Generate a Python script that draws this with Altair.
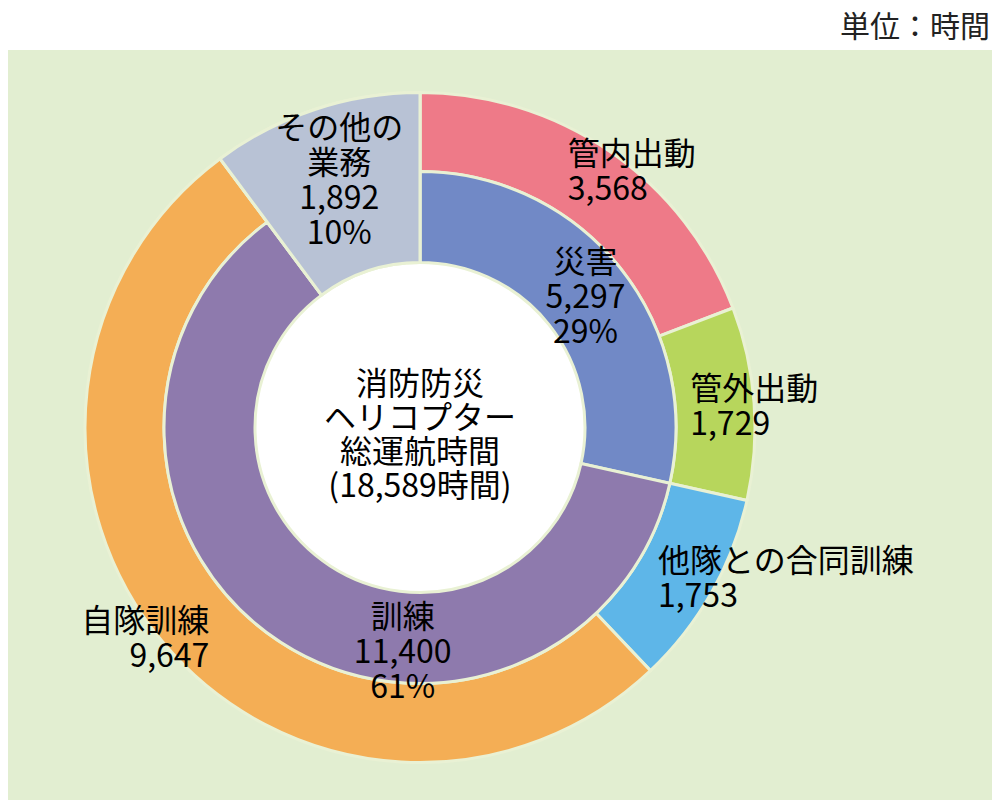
import math

import altair as alt
import pandas as pd

# 外側の輪：内訳
outer_names = ["管内出動", "管外出動", "他隊との合同訓練", "自隊訓練", "その他の業務"]
outer_display = ["管内出動", "管外出動", "他隊との合同訓練", "自隊訓練", "その他の\n業務"]
outer_values = [3568, 1729, 1753, 9647, 1892]

# 内側の輪：区分
inner_names = ["災害", "訓練", "その他の業務"]
inner_values = [5297, 11400, 1892]
inner_pct = ["29%", "61%", "10%"]

palette_names = ["管内出動", "管外出動", "他隊との合同訓練", "自隊訓練", "その他の業務", "災害", "訓練"]
palette_colors = ["#EE7A88", "#B7D65C", "#5EB6E8", "#F4AE55", "#B8C2D5", "#7189C6", "#8E7AAD"]

center_lines = ["消防防災", "ヘリコプター", "総運航時間"]
unit_label = "単位：時間"

FONT = "Noto Sans CJK JP"
BG = "#E2EED1"
EDGE = "#E9F1D4"
LH = 35
CX, CY = 412, 377.5  # 円の中心（view 座標）

total = sum(outer_values)

outer = pd.DataFrame({
    "name": outer_names,
    "value": outer_values,
    "order": list(range(len(outer_names))),
    "label": [f"{d}\n{v:,}" for d, v in zip(outer_display, outer_values)],
})
# その他の業務 は内外をまたぐ一枚なので割合もここに付ける
outer.loc[outer["name"] == "その他の業務", "label"] += "\n" + inner_pct[-1]

inner = pd.DataFrame({
    "name": inner_names,
    "value": inner_values,
    "order": list(range(len(inner_names))),
    "label": [f"{n}\n{v:,}\n{p}" for n, v, p in zip(inner_names, inner_values, inner_pct)],
})

theta_scale = alt.Scale(domain=[0, total], range=[0, 2 * math.pi], nice=False, zero=True)
color = alt.Color(
    "name:N", scale=alt.Scale(domain=palette_names, range=palette_colors), legend=None
)


def stacked(df):
    return (
        alt.Chart(df)
        .transform_stack(
            stack="value", groupby=[], as_=["start", "end"],
            sort=[alt.SortField("order", order="ascending")],
        )
        .transform_calculate(mid="(datum.start + datum.end) / 2")
    )


def ring(df, inner_r, outer_r, only=None):
    base = stacked(df)
    if only:
        base = base.transform_filter(alt.datum.name == only)
    return base.mark_arc(
        innerRadius=inner_r, outerRadius=outer_r, stroke=EDGE, strokeWidth=3
    ).encode(
        theta=alt.Theta("start:Q", scale=theta_scale),
        theta2="end:Q",
        color=color,
        x=alt.value(CX),
        y=alt.value(CY),
    )


def label(df, name, radius, align="center", dx=0, dy=0):
    # 複数行は1行目が基準点に来るので、ブロックの中央に合わせてずらす
    breaks = df.loc[df["name"] == name, "label"].iloc[0].count("\n")
    return (
        stacked(df)
        .transform_filter(alt.datum.name == name)
        .mark_text(
            radius=radius, align=align, dx=dx, dy=dy - breaks * LH / 2, baseline="middle",
            lineBreak="\n", font=FONT, fontSize=32, lineHeight=LH, color="black",
        )
        .encode(
            theta=alt.Theta("mid:Q", scale=theta_scale),
            text="label:N",
            x=alt.value(CX),
            y=alt.value(CY),
        )
    )


info = pd.DataFrame({
    "center": ["\n".join(center_lines) + f"\n({total:,}時間)"],
    "unit": [unit_label],
})

disc = alt.Chart(info).mark_arc(
    theta=0, theta2=2 * math.pi, innerRadius=0, outerRadius=166, fill="white"
).encode(x=alt.value(CX), y=alt.value(CY))

center_text = alt.Chart(info).mark_text(
    font=FONT, fontSize=32, lineHeight=34, lineBreak="\n", baseline="middle", color="black"
).encode(text="center:N", x=alt.value(CX), y=alt.value(CY + 8.5 - 1.5 * 34))

unit_text = alt.Chart(info).mark_text(
    font=FONT, fontSize=30, align="right", baseline="middle", color="#222222"
).encode(text="unit:N", x=alt.value(982), y=alt.value(-22))

labels = [
    label(outer, "管内出動", 310, "left", dx=-28),
    label(outer, "管外出動", 300, "left", dx=-29, dy=2),
    label(outer, "他隊との合同訓練", 300, "left", dx=-23, dy=4.5),
    label(outer, "自隊訓練", 300, "right", dx=19, dy=19),
    label(outer, "その他の業務", 260, dx=1, dy=1),
    label(inner, "災害", 207, dx=4),
    label(inner, "訓練", 210, dx=97, dy=49),
]

chart = (
    alt.layer(
        disc,
        ring(outer, 256, 335),
        ring(inner, 165, 256),
        ring(outer, 165, 335, only="その他の業務"),
        *labels,
        center_text,
        unit_text,
    )
    .properties(
        width=984,
        height=750,
        autosize="none",
        padding={"left": 0, "top": 42, "right": 0, "bottom": 0},
        background="white",
    )
    .configure_view(fill=BG, strokeWidth=0)
)

chart.save("out.html", embed_options={"renderer": "svg", "actions": False})
